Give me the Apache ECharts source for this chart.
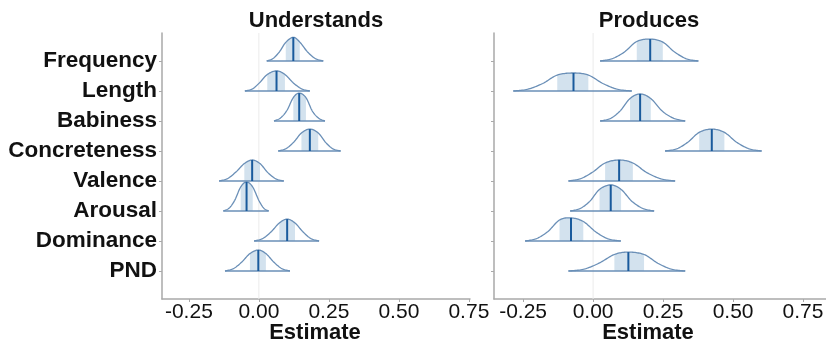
<!DOCTYPE html>
<html>
<head>
<meta charset="utf-8">
<script src="https://cdn.jsdelivr.net/npm/echarts@6/dist/echarts.min.js"></script>
<style>
html,body{margin:0;padding:0;background:#fff;}
#chart{width:826px;height:341px;}
</style>
</head>
<body>
<div id="chart"></div>
<script>
// ---- data ----
const rows = ['Frequency', 'Length', 'Babiness', 'Concreteness', 'Valence', 'Arousal', 'Dominance', 'PND'];
const xTicks = [-0.25, 0, 0.25, 0.5, 0.75];
const panelTitles = ['Understands', 'Produces'];

// Density profiles: 9 x positions per row
// [left end, tail, tail, 50% low, median, 50% high, tail, tail, right end]
const undX = [
  [0.028, 0.050, 0.073, 0.096, 0.123, 0.146, 0.174, 0.202, 0.230],
  [-0.050, -0.023, 0.003, 0.030, 0.063, 0.093, 0.123, 0.153, 0.182],
  [0.054, 0.077, 0.100, 0.123, 0.144, 0.168, 0.191, 0.214, 0.236],
  [0.069, 0.097, 0.125, 0.152, 0.182, 0.212, 0.239, 0.265, 0.292],
  [-0.142, -0.112, -0.082, -0.052, -0.024, 0.004, 0.032, 0.061, 0.089],
  [-0.127, -0.106, -0.086, -0.065, -0.044, -0.022, 0.000, 0.018, 0.035],
  [-0.017, 0.013, 0.043, 0.073, 0.101, 0.129, 0.158, 0.186, 0.215],
  [-0.121, -0.091, -0.062, -0.032, -0.002, 0.025, 0.054, 0.082, 0.111]
];
// density heights (in row units) at those positions
const undH = [
  [0, 0.08, 0.30, 0.62, 0.79, 0.63, 0.30, 0.08, 0],
  [0, 0.07, 0.28, 0.55, 0.67, 0.55, 0.27, 0.07, 0],
  [0, 0.10, 0.35, 0.78, 0.93, 0.78, 0.33, 0.09, 0],
  [0, 0.08, 0.30, 0.60, 0.73, 0.60, 0.28, 0.07, 0],
  [0, 0.08, 0.30, 0.58, 0.70, 0.58, 0.28, 0.07, 0],
  [0, 0.10, 0.36, 0.80, 0.97, 0.80, 0.35, 0.09, 0],
  [0, 0.08, 0.30, 0.60, 0.73, 0.60, 0.30, 0.08, 0],
  [0, 0.08, 0.29, 0.58, 0.70, 0.58, 0.29, 0.08, 0]
];
const proX = [
  [0.025, 0.069, 0.112, 0.156, 0.204, 0.249, 0.291, 0.334, 0.376],
  [-0.285, -0.233, -0.180, -0.128, -0.070, -0.017, 0.035, 0.086, 0.138],
  [0.025, 0.061, 0.096, 0.132, 0.168, 0.206, 0.247, 0.288, 0.329],
  [0.257, 0.298, 0.338, 0.379, 0.424, 0.469, 0.513, 0.558, 0.602],
  [-0.088, -0.044, -0.001, 0.043, 0.093, 0.142, 0.192, 0.243, 0.293],
  [-0.082, -0.047, -0.012, 0.023, 0.063, 0.100, 0.139, 0.179, 0.218],
  [-0.243, -0.202, -0.161, -0.120, -0.079, -0.035, 0.010, 0.054, 0.099],
  [-0.088, -0.033, 0.021, 0.076, 0.126, 0.182, 0.231, 0.280, 0.329]
];
const proH = [
  [0, 0.08, 0.30, 0.65, 0.73, 0.63, 0.30, 0.07, 0],
  [0, 0.06, 0.25, 0.53, 0.60, 0.53, 0.25, 0.06, 0],
  [0, 0.08, 0.33, 0.75, 0.90, 0.75, 0.33, 0.09, 0],
  [0, 0.07, 0.29, 0.62, 0.73, 0.62, 0.29, 0.07, 0],
  [0, 0.08, 0.30, 0.60, 0.70, 0.60, 0.28, 0.07, 0],
  [0, 0.08, 0.32, 0.72, 0.87, 0.72, 0.32, 0.08, 0],
  [0, 0.08, 0.32, 0.70, 0.77, 0.65, 0.30, 0.07, 0],
  [0, 0.06, 0.26, 0.55, 0.63, 0.55, 0.26, 0.06, 0]
];

// ---- styling ----
const FONT = '"Liberation Sans", Arial, Helvetica, sans-serif';
const C_OUT = '#6a8fb7';
const C_FILL = '#d3e2ee';
const C_MED = '#195a9c';
const C_AXIS = '#a9a9a9';
const C_TEXT = '#111111';
const N = rows.length;
const yMin = 0.067, yMax = N + 0.933;

function rowPos(i) { return N - i; }

// smooth a mapped pixel polyline (Catmull-Rom), tracking segment index
function smoothPts(p, steps) {
  const out = [];
  for (let j = 0; j < p.length - 1; j++) {
    const p0 = p[Math.max(j - 1, 0)], p1 = p[j], p2 = p[j + 1], p3 = p[Math.min(j + 2, p.length - 1)];
    for (let s = 0; s < steps; s++) {
      const t = s / steps, t2 = t * t, t3 = t2 * t;
      const f = (a, b, c, d) => 0.5 * ((2 * b) + (-a + c) * t + (2 * a - 5 * b + 4 * c - d) * t2 + (-a + 3 * b - 3 * c + d) * t3);
      out.push({ seg: j, pt: [f(p0[0], p1[0], p2[0], p3[0]), f(p0[1], p1[1], p2[1], p3[1])] });
    }
  }
  out.push({ seg: p.length - 1, pt: p[p.length - 1].slice() });
  return out;
}

function makeRender(X, H) {
  return function (params, api) {
    const i = api.value(2);
    const base = rowPos(i);
    const pts = X[i].map((x, k) => api.coord([x, base + H[i][k]]));
    const dense = smoothPts(pts, 14);
    const curve = dense.map(d => d.pt);
    const shaded = dense.filter(d => d.seg >= 3 && d.seg <= 4).map(d => d.pt);
    shaded.push(pts[5].slice());
    const b3 = api.coord([X[i][3], base]);
    const b5 = api.coord([X[i][5], base]);
    const bL = api.coord([X[i][0], base]);
    const bR = api.coord([X[i][8], base]);
    const bM = api.coord([X[i][4], base]);
    const tM = pts[4];
    return {
      type: 'group',
      children: [
        { type: 'polygon', shape: { points: [b3].concat(shaded, [b5]) }, style: { fill: C_FILL, stroke: null } },
        { type: 'polyline', shape: { points: curve }, style: { fill: null, stroke: C_OUT, lineWidth: 1.3 } },
        { type: 'line', shape: { x1: bL[0], y1: bL[1], x2: bR[0], y2: bR[1] }, style: { stroke: C_OUT, lineWidth: 1.6 } },
        { type: 'line', shape: { x1: bM[0], y1: bM[1], x2: tM[0], y2: tM[1] }, style: { stroke: C_MED, lineWidth: 2 } }
      ]
    };
  };
}

function zeroLine(params, api) {
  const a = api.coord([0, yMin]), b = api.coord([0, yMax]);
  return { type: 'line', shape: { x1: a[0], y1: a[1], x2: b[0], y2: b[1] }, style: { stroke: '#ebebeb', lineWidth: 1 } };
}

function xAxisCfg(gi, min, max) {
  return {
    type: 'value', gridIndex: gi, min: min, max: max,
    axisLine: { show: true, onZero: false, lineStyle: { color: C_AXIS, width: 1.5 } },
    axisTick: { show: true, customValues: xTicks, length: 3, lineStyle: { color: C_AXIS } },
    axisLabel: { customValues: xTicks, formatter: v => v.toFixed(2), color: C_TEXT, fontSize: 21, fontFamily: FONT, margin: 3 },
    splitLine: { show: false }
  };
}
const yTicks = rows.map((r, i) => rowPos(i));
function yAxisCfg(gi, showLabels) {
  return {
    type: 'value', gridIndex: gi, min: yMin, max: yMax,
    axisLine: { show: true, onZero: false, lineStyle: { color: C_AXIS, width: 1.5 } },
    axisTick: { show: true, customValues: yTicks, length: 3, lineStyle: { color: C_AXIS } },
    axisLabel: {
      show: showLabels, customValues: yTicks,
      formatter: v => rows[N - Math.round(v)],
      color: C_TEXT, fontSize: 22.5, fontWeight: 'bold', fontFamily: FONT, margin: 5
    },
    splitLine: { show: false }
  };
}

function rowData(X) { return rows.map((r, i) => [X[i][4], rowPos(i), i]); }

const chart = echarts.init(document.getElementById('chart'), null, { renderer: 'canvas' });
chart.setOption({
  animation: false,
  backgroundColor: '#ffffff',
  grid: [
    { left: 162, top: 33, width: 308, height: 266, outerBoundsMode: 'none' },
    { left: 494, top: 33, width: 332, height: 266, outerBoundsMode: 'none' }
  ],
  xAxis: [xAxisCfg(0, -0.346, 0.754), xAxisCfg(1, -0.354, 0.832)],
  yAxis: [yAxisCfg(0, true), yAxisCfg(1, false)],
  graphic: [
    { type: 'text', x: 316, y: 21, style: { text: panelTitles[0], textAlign: 'center', textVerticalAlign: 'middle', font: 'bold 22px ' + FONT, fill: C_TEXT } },
    { type: 'text', x: 649, y: 21, style: { text: panelTitles[1], textAlign: 'center', textVerticalAlign: 'middle', font: 'bold 22px ' + FONT, fill: C_TEXT } },
    { type: 'text', x: 315, y: 333, style: { text: 'Estimate', textAlign: 'center', textVerticalAlign: 'middle', font: 'bold 22px ' + FONT, fill: C_TEXT } },
    { type: 'text', x: 648, y: 333, style: { text: 'Estimate', textAlign: 'center', textVerticalAlign: 'middle', font: 'bold 22px ' + FONT, fill: C_TEXT } }
  ],
  series: [
    { type: 'custom', xAxisIndex: 0, yAxisIndex: 0, data: [[0, 1, 0]], renderItem: zeroLine, z: 1, silent: true, clip: false },
    { type: 'custom', xAxisIndex: 1, yAxisIndex: 1, data: [[0, 1, 0]], renderItem: zeroLine, z: 1, silent: true, clip: false },
    { type: 'custom', name: 'Understands', xAxisIndex: 0, yAxisIndex: 0, data: rowData(undX), encode: { x: 0, y: 1 }, renderItem: makeRender(undX, undH), z: 3, clip: false },
    { type: 'custom', name: 'Produces', xAxisIndex: 1, yAxisIndex: 1, data: rowData(proX), encode: { x: 0, y: 1 }, renderItem: makeRender(proX, proH), z: 3, clip: false }
  ]
});
</script>
</body>
</html>
